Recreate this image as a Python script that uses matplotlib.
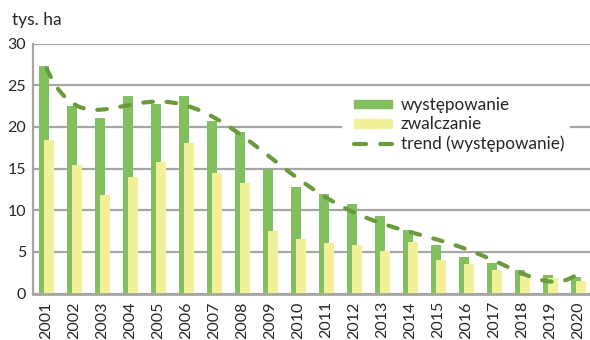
import numpy as np
import matplotlib
matplotlib.use("Agg")
import matplotlib.pyplot as plt
from matplotlib.patches import Patch, Rectangle
from matplotlib.lines import Line2D

plt.rcParams['font.family'] = ['Lato', 'DejaVu Sans']

years = ["2001", "2002", "2003", "2004", "2005", "2006", "2007", "2008", "2009", "2010",
         "2011", "2012", "2013", "2014", "2015", "2016", "2017", "2018", "2019", "2020"]
wystepowanie = [27.3, 22.5, 21.1, 23.7, 22.7, 23.7, 20.7, 19.4, 14.9, 12.8,
                11.9, 10.7, 9.3, 7.6, 5.8, 4.4, 3.65, 2.8, 2.2, 2.0]
zwalczanie = [18.4, 15.4, 11.8, 14.0, 15.8, 18.1, 14.5, 13.3, 7.5, 6.5,
              6.05, 5.8, 5.1, 6.2, 4.0, 3.55, 2.8, 2.1, 1.85, 1.5]
yticks = [0, 5, 10, 15, 20, 25, 30]

GREEN = "#82bf5f"
YELLOW = "#f2f098"
TREND = "#6a9a3c"
GRID = "#a6a6a6"
TEXT = "#262626"
W, H = 590, 340

fig = plt.figure(figsize=(W / 100, H / 100), dpi=100)
ax = fig.add_axes([32.5 / W, 1 - 293.5 / H, 560 / W, 249.8 / H])

x = np.arange(len(years))
w = 0.35
ax.bar(x - 0.095, wystepowanie, width=w, color=GREEN, zorder=2)
ax.bar(x + 0.095, zwalczanie, width=w, color=YELLOW, zorder=3)

# polynomial trend (order 6) of the occurrence series
coef = np.polyfit(x, wystepowanie, 6)
xs = np.linspace(x[0], x[-1], 400)
ax.plot(xs, np.polyval(coef, xs), color=TREND, lw=3.0, dashes=(2.3, 3.3),
        dash_capstyle='round', zorder=4)

ax.set_xlim(-0.5, len(years) - 0.5)
ax.set_ylim(0, 30)
ax.set_yticks(yticks)
ax.set_xticks(x)
ax.set_xticklabels(years, rotation=90, fontsize=11.5, color=TEXT)
ax.tick_params(axis='y', labelsize=11.5, labelcolor=TEXT, length=0, pad=4.5)
ax.tick_params(axis='x', length=0, pad=5.5)
ax.grid(axis='y', color=GRID, lw=1.6, zorder=0)
ax.set_axisbelow(True)
for s in ['top', 'right']:
    ax.spines[s].set_visible(False)
ax.spines['left'].set_color(GRID)
ax.spines['left'].set_linewidth(1.6)
ax.spines['bottom'].set_color(GRID)
ax.spines['bottom'].set_linewidth(2.0)
ax.spines['bottom'].set_zorder(5)

fig.text(12 / W, 1 - 20 / H, "tys. ha", fontsize=12.5, color=TEXT, va='center', ha='left')

# white backdrop behind the legend
fig.add_artist(Rectangle((342 / W, 1 - 162 / H), 228 / W, 70 / H,
                         transform=fig.transFigure, facecolor='white',
                         edgecolor='none', zorder=1))

handles = [Patch(color=GREEN, label="występowanie"),
           Patch(color=YELLOW, label="zwalczanie"),
           Line2D([], [], color=TREND, lw=3.0, dashes=(2.9, 3.4), dash_capstyle='round',
                  label="trend (występowanie)")]
leg = fig.legend(handles=handles, loc='upper left',
                 bbox_to_anchor=(354 / W, 1 - 97 / H), bbox_transform=fig.transFigure,
                 frameon=False, fontsize=12.3, handlelength=2.2, handleheight=0.4,
                 labelspacing=0.2, borderpad=0, borderaxespad=0, handletextpad=0.55)
leg.set_zorder(6)
for t in leg.get_texts():
    t.set_color(TEXT)

fig.savefig("out.png", dpi=100)
